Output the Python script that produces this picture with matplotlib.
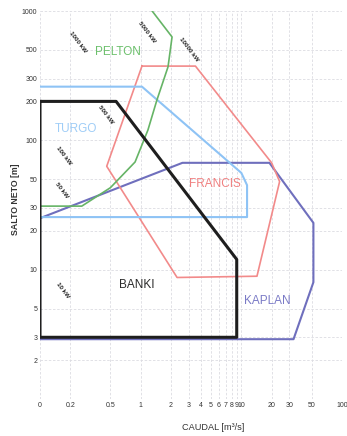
import matplotlib
matplotlib.use("Agg")
import matplotlib.pyplot as plt

plt.rcParams['font.family'] = ['Liberation Sans', 'DejaVu Sans']

# Operating envelopes of hydraulic turbines: flow Q [m3/s] vs net head H [m]
pelton_q = [0.1, 0.26, 0.5, 0.88, 1.18, 1.45, 1.87, 2.05, 1.3]
pelton_h = [31, 31, 43, 68, 120, 205, 370, 630, 1000]

turgo_q = [0.1, 1.03, 10.0, 11.4, 11.4, 0.1]
turgo_h = [260, 260, 56, 45, 25.5, 25.5]

francis_q = [1.03, 3.5, 20.0, 24.0, 14.3, 2.3, 0.46, 1.03]
francis_h = [375, 375, 67, 48, 8.9, 8.7, 63, 375]

kaplan_q = [0.1, 2.6, 19.0, 52.0, 52.0, 33.0, 0.1, 0.1]
kaplan_h = [25, 67, 67, 23, 8, 2.9, 2.9, 25]

banki_q = [0.1, 0.57, 9.0, 9.0, 0.1, 0.1]
banki_h = [200, 200, 12, 3, 3, 200]

# Turbine names and where they are written
names = ['PELTON', 'TURGO', 'FRANCIS', 'BANKI', 'KAPLAN']
name_q = [0.6, 0.228, 5.47, 0.92, 18.0]
name_h = [482, 122, 46, 7.6, 5.7]

# Power iso-lines annotations
power_labels = ['1000 kW', '5000 kW', '10000 kW', '500 kW', '100 kW', '50 kW', '10 kW']
power_q = [0.238, 1.155, 3.02, 0.452, 0.173, 0.165, 0.169]
power_h = [575, 688, 508, 157, 75.6, 41.3, 6.95]

x_ticks = [0.1, 0.2, 0.5, 1, 2, 3, 4, 5, 6, 7, 8, 9, 10, 20, 30, 50, 100]
x_tick_labels = ['0', '0.2', '0.5', '1', '2', '3', '4', '5', '6', '7', '8', '9',
                 '10', '20', '30', '50', '100']
y_ticks = [2, 3, 5, 10, 20, 30, 50, 100, 200, 300, 500, 1000]
y_tick_labels = ['2', '3', '5', '10', '20', '30', '50', '100', '200', '300', '500', '1000']

fig = plt.figure(figsize=(3.47, 4.36), dpi=100)
ax = fig.add_axes([40 / 347, 1 - 399 / 436, 302 / 347, 388 / 436])
ax.set_xscale('log')
ax.set_yscale('log')
ax.set_xlim(0.1, 100)
ax.set_ylim(1, 1000)

for s in ax.spines.values():
    s.set_visible(False)

ax.set_xticks(x_ticks)
ax.set_xticklabels(x_tick_labels)
ax.set_yticks(y_ticks)
ax.set_yticklabels(y_tick_labels)
ax.minorticks_off()
ax.tick_params(length=0, labelsize=5, labelcolor='#333333', pad=2)
ax.grid(True, color='#dcdce2', linestyle=(0, (3, 2)), linewidth=0.6)
ax.set_axisbelow(True)

ax.plot(kaplan_q, kaplan_h, color='#6f6fbd', lw=1.5, zorder=3)
ax.plot(francis_q, francis_h, color='#f28a8a', lw=1.2, zorder=3)
ax.plot(turgo_q, turgo_h, color='#8ec3f5', lw=1.5, zorder=3)
ax.plot(pelton_q, pelton_h, color='#66b466', lw=1.2, zorder=3)
ax.plot(banki_q, banki_h, color='#1e1e1e', lw=2.2, zorder=4)

name_colors = ['#6cc06c', '#9fcdf7', '#f08080', '#2a2a2a', '#7a7ac6']
for n, q, h, c in zip(names, name_q, name_h, name_colors):
    ax.text(q, h, n, color=c, fontsize=8.5, ha='center', va='center', zorder=5)

for lab, q, h in zip(power_labels, power_q, power_h):
    ax.text(q, h, lab, color='#222222', fontsize=4.5, fontweight='bold',
            rotation=-53, ha='center', va='center', rotation_mode='anchor', zorder=5)

fig.text(16 / 347, 1 - 199 / 436, 'SALTO NETO [m]', rotation=90, fontsize=6.3,
         fontweight='bold', color='#333333', ha='center', va='center')
fig.text(213 / 347, 1 - 427 / 436, 'CAUDAL [m³/s]', fontsize=6.6,
         color='#333333', ha='center', va='center')

fig.savefig('out.png', dpi=100)
